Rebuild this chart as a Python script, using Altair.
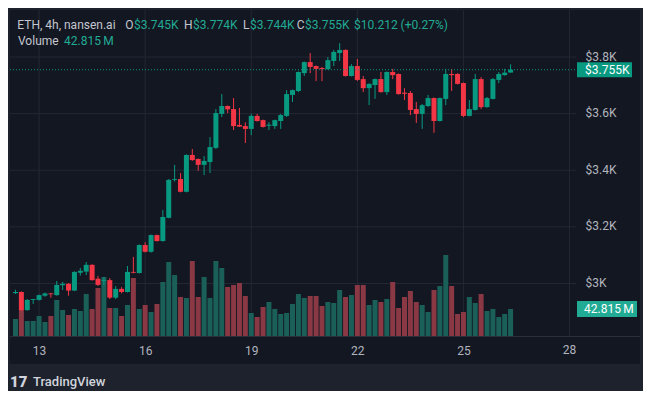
import altair as alt
import pandas as pd

# ---- data: ETH 4h candles, 2025-07-12 08:00 .. 2025-07-26 08:00 ----
start = "2025-07-12 08:00"
opens = [2966, 2970, 2906, 2942, 2942, 2957, 2965, 2959, 2994, 2999,
         2975, 3038, 3042, 3066, 3017, 3009, 3012, 2950, 2981, 2970,
         3041, 3037, 3136, 3112, 3171, 3150, 3232, 3366, 3369, 3324,
         3454, 3440, 3419, 3429, 3479, 3599, 3627, 3616, 3560, 3556,
         3546, 3592, 3577, 3557, 3556, 3574, 3592, 3666, 3680, 3743,
         3782, 3768, 3761, 3757, 3786, 3814, 3825, 3733, 3768, 3722,
         3690, 3701, 3722, 3676, 3747, 3740, 3674, 3673, 3616, 3599,
         3627, 3655, 3574, 3652, 3740, 3740, 3708, 3592, 3613, 3722,
         3623, 3652, 3719, 3736, 3745]
highs = [2978, 2972, 2945, 2946, 2961, 2968, 2967, 3009, 3006, 3001,
         3043, 3055, 3076, 3068, 3027, 3022, 3019, 2991, 2987, 3062,
         3094, 3138, 3146, 3173, 3173, 3260, 3369, 3419, 3390, 3456,
         3475, 3441, 3450, 3517, 3616, 3669, 3629, 3655, 3620, 3569,
         3599, 3599, 3579, 3570, 3579, 3599, 3683, 3685, 3749, 3784,
         3814, 3770, 3765, 3800, 3825, 3849, 3827, 3775, 3793, 3733,
         3707, 3724, 3747, 3749, 3758, 3742, 3690, 3680, 3641, 3634,
         3666, 3657, 3657, 3758, 3758, 3743, 3710, 3648, 3740, 3729,
         3659, 3726, 3747, 3758, 3774]
lows = [2963, 2903, 2904, 2928, 2940, 2953, 2950, 2957, 2977, 2957,
        2973, 3028, 3030, 3010, 2991, 2994, 2945, 2945, 2965, 2968,
        3036, 3035, 3110, 3109, 3148, 3148, 3230, 3360, 3322, 3322,
        3433, 3398, 3383, 3390, 3475, 3588, 3602, 3542, 3553, 3496,
        3524, 3572, 3551, 3542, 3546, 3546, 3588, 3641, 3676, 3733,
        3743, 3715, 3715, 3755, 3768, 3786, 3731, 3731, 3715, 3676,
        3630, 3652, 3674, 3666, 3722, 3667, 3648, 3595, 3567, 3546,
        3623, 3532, 3572, 3630, 3680, 3703, 3588, 3590, 3611, 3616,
        3621, 3650, 3708, 3734, 3744]
closes = [2970, 2906, 2942, 2945, 2959, 2965, 2962, 2995, 2999, 2975,
          3041, 3045, 3066, 3012, 2995, 3012, 2950, 2981, 2970, 3041,
          3038, 3136, 3112, 3171, 3150, 3235, 3366, 3369, 3324, 3454,
          3436, 3419, 3433, 3482, 3602, 3627, 3615, 3556, 3554, 3546,
          3592, 3574, 3553, 3561, 3577, 3595, 3669, 3683, 3747, 3782,
          3765, 3758, 3757, 3789, 3818, 3825, 3733, 3768, 3719, 3690,
          3705, 3722, 3676, 3747, 3736, 3669, 3670, 3613, 3599, 3630,
          3655, 3574, 3655, 3740, 3736, 3705, 3592, 3616, 3722, 3623,
          3655, 3722, 3740, 3744.8, 3755]
volumes_m = [27.0, 41.2, 23.8, 23.8, 31.7, 22.2, 31.7, 57.1, 41.2, 33.3,
             42.8, 39.6, 66.6, 42.8, 76.1, 93.6, 44.4, 44.4, 31.7, 49.2,
             92.0, 42.8, 49.2, 38.1, 50.7, 85.6, 117.3, 96.7, 61.8, 60.3,
             118.9, 61.8, 93.6, 60.3, 118.9, 107.8, 77.7, 80.9, 84.0, 63.4,
             36.5, 30.1, 46.0, 53.9, 42.8, 34.9, 36.5, 50.7, 66.6, 60.3,
             63.4, 63.4, 47.6, 53.9, 52.3, 72.9, 61.8, 65.0, 80.9, 80.9,
             49.2, 57.1, 53.9, 58.7, 85.6, 44.4, 61.8, 71.4, 53.9, 49.2,
             38.1, 72.9, 79.3, 128.4, 79.3, 34.9, 38.1, 61.8, 52.3, 66.6,
             39.6, 42.8, 30.1, 34.9, 42.815]
price_ticks = [3000, 3200, 3400, 3600, 3800]
day_ticks = [13, 16, 19, 22, 25, 28]
header_text = "ETH, 4h, nansen.ai"
ohlc_values = ["$3.745K", "$3.774K", "$3.744K", "$3.755K"]
change_text = "$10.212 (+0.27%)"

# ---- style ----
W, H = 566, 326
G, R = "#089981", "#f23645"
VG, VR = "#1a6059", "#893844"
PANEL, OUTER = "#131722", "#1e222d"
GRID, TXT, TXT2 = "#232733", "#b2b5be", "#c3c6ce"
FONT = "Roboto"

times = pd.date_range(start, periods=len(opens), freq="4h")
df = pd.DataFrame({
    "t": times.strftime("%Y-%m-%dT%H:%M:%S"),
    "open": opens, "high": highs, "low": lows, "close": closes, "vol": volumes_m,
})
up = "datum.close >= datum.open"


def dcol(a, b):
    return alt.condition(up, alt.value(a), alt.value(b))


def dt(d, h=0, m=0):
    return alt.DateTime(year=2025, month=7, date=d, hours=h, minutes=m)


xsc = alt.Scale(domain=[dt(12, 7, 40), dt(28, 1)])
ysc = alt.Scale(domain=[2814.6, 3966], zero=False, nice=False)
vsc = alt.Scale(domain=[0, 516.9], zero=True, nice=False)

# the last day label is drawn as a mark so the price-axis column can clip it
xaxis = alt.Axis(values=[dt(d) for d in day_ticks[:-1]], format="%d", title=None,
                 labelFont=FONT, labelFontSize=12, labelColor=TXT, ticks=False,
                 domain=False, grid=False, labelPadding=14, labelBaseline="middle",
                 labelFlush=False, labelOverlap=False, zindex=0)
yaxis = alt.Axis(orient="right", values=price_ticks, title=None,
                 labelExpr='"$" + format(datum.value / 1000, "~g") + "K"',
                 labelFont=FONT, labelFontSize=12, labelColor=TXT, ticks=False,
                 domain=False, grid=False, labelPadding=9, labelAlign="left",
                 labelBaseline="middle", labelOffset=-1, labelOverlap=False, zindex=0)

one = pd.DataFrame({"a": [0]})


def box(x1, x2, y1, y2, color):
    return alt.Chart(one).mark_rect(color=color).encode(
        x=alt.value(x1), x2=alt.value(x2), y=alt.value(y1), y2=alt.value(y2))


def label(txt, x, y, color, size=12, weight="normal", align="left"):
    return alt.Chart(pd.DataFrame({"s": [txt]})).mark_text(
        align=align, baseline="middle", font=FONT, fontSize=size,
        fontWeight=weight, color=color).encode(
        x=alt.value(x), y=alt.value(y), text="s:N")


layers = [
    box(-2, 633, -2, 0, OUTER),
    box(-2, 0, -2, 381, OUTER),
    box(630, 633, -2, 381, OUTER),
    box(-2, 633, 354, 381, OUTER),
]

# grid
layers.append(alt.Chart(pd.DataFrame({"p": price_ticks})).mark_rule(
    color=GRID, strokeWidth=1).encode(
    y=alt.Y("p:Q", scale=ysc, axis=None), x=alt.value(0), x2=alt.value(W)))
days = pd.DataFrame({"t": [f"2025-07-{d:02d}T00:00:00" for d in day_ticks],
                     "lab": [str(d) for d in day_ticks]})
layers.append(alt.Chart(days).mark_rule(color=GRID, strokeWidth=1).encode(
    x=alt.X("t:T", scale=xsc, axis=xaxis), y=alt.value(0), y2=alt.value(H)))

# volume
layers.append(alt.Chart(df).mark_bar(size=5).encode(
    x=alt.X("t:T", scale=xsc, axis=xaxis),
    y=alt.Y("vol:Q", scale=vsc, axis=None),
    color=dcol(VG, VR)))

# candles
layers.append(alt.Chart(df).mark_rule(strokeWidth=1).encode(
    x=alt.X("t:T", scale=xsc, axis=xaxis),
    y=alt.Y("low:Q", scale=ysc, axis=None), y2="high:Q",
    color=dcol(G, R)))
layers.append(alt.Chart(df).mark_bar(size=5).encode(
    x=alt.X("t:T", scale=xsc, axis=xaxis),
    y=alt.Y("open:Q", scale=ysc, axis=yaxis), y2="close:Q",
    color=dcol(G, R)))

# last day label (partly hidden by the price-axis column, as in the original)
layers.append(alt.Chart(days.tail(1)).mark_text(
    align="center", baseline="middle", font=FONT, fontSize=12, color=TXT).encode(
    x=alt.X("t:T", scale=xsc, axis=xaxis), y=alt.value(340), text="lab:N"))
layers.append(box(567, 630, 327, 354, PANEL))

# last price line and labels
last = pd.DataFrame({
    "c": [closes[-1]], "v": [volumes_m[-1]],
    "pl": [f"${closes[-1] / 1000:.3f}K"], "vl": [f"{volumes_m[-1]:.3f}\u2009M"],
})
layers.append(alt.Chart(last).mark_rule(color=G, strokeWidth=1, strokeDash=[1, 2]).encode(
    y=alt.Y("c:Q", scale=ysc, axis=None), x=alt.value(0), x2=alt.value(W)))
layers.append(alt.Chart(last).mark_rule(color=G, strokeWidth=15, strokeCap="butt").encode(
    y=alt.Y("c:Q", scale=ysc, axis=None), x=alt.value(567), x2=alt.value(622)))
layers.append(alt.Chart(last).mark_text(align="left", baseline="middle", font=FONT,
                                        fontSize=12, color="#ffffff").encode(
    y=alt.Y("c:Q", scale=ysc, axis=None), x=alt.value(575), text="pl:N"))
layers.append(alt.Chart(last).mark_rule(color="#22ab94", strokeWidth=16, strokeCap="butt").encode(
    y=alt.Y("v:Q", scale=vsc, axis=None), x=alt.value(567), x2=alt.value(627)))
layers.append(alt.Chart(last).mark_text(align="left", baseline="middle", font=FONT,
                                        fontSize=12, color="#ffffff").encode(
    y=alt.Y("v:Q", scale=vsc, axis=None), x=alt.value(574), text="vl:N"))

# border above the time scale
layers.append(alt.Chart(one).mark_rule(color="#2a2e39", strokeWidth=1).encode(
    x=alt.value(0), x2=alt.value(630), y=alt.value(326.5)))

# header legend
layers.append(label(header_text, 7.3, 14.5, TXT2))
for letter, vx, val in zip("OHLC", [124, 183, 240, 295], ohlc_values):
    layers.append(label(letter, vx - 0.5, 14.5, TXT2, align="right"))
    layers.append(label(val, vx, 14.5, "#22ab94"))
layers.append(label(change_text, 344, 14.5, "#22ab94"))
layers.append(label("Volume", 8, 31, TXT2))
layers.append(label(f"{volumes_m[-1]:.3f}\u2009M", 54, 31, "#22ab94"))

# logo
layers.append(label("17", 0, 372, "#d1d4dc", size=15, weight=900))
layers.append(label("TradingView", 23, 372, "#d1d4dc", size=13, weight=500))

chart = alt.layer(*layers).resolve_scale(y="independent").properties(
    width=W, height=H, background=PANEL,
    padding={"left": 2, "top": 2, "right": 67, "bottom": 55},
    autosize=alt.AutoSizeParams(type="none"),
).configure(font=FONT, view=alt.ViewConfig(strokeWidth=0))

chart.save("out.html", embed_options={"renderer": "svg", "actions": False})
